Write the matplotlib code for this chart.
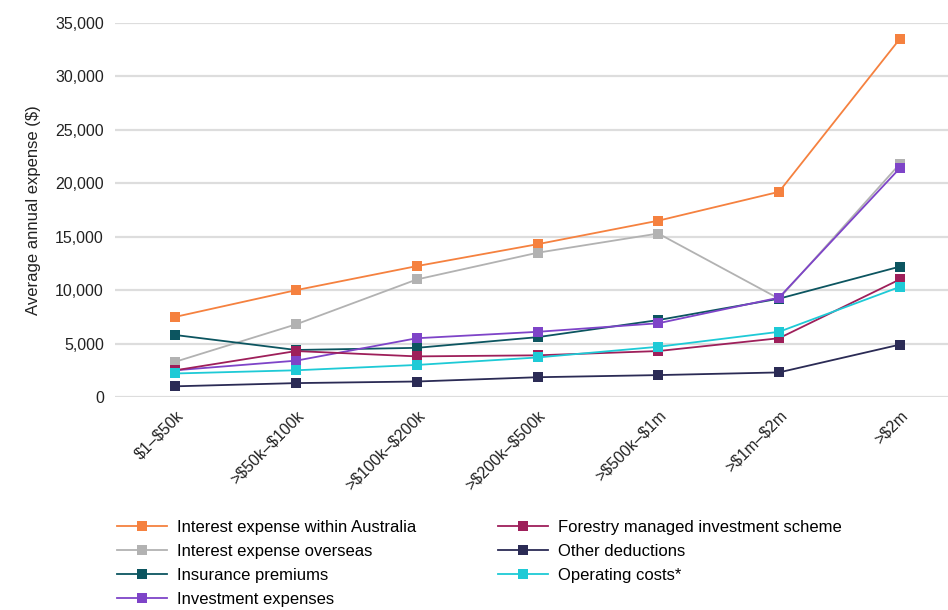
import matplotlib
matplotlib.use("Agg")
import matplotlib.pyplot as plt
from matplotlib.ticker import FuncFormatter

plt.rcParams['font.family'] = ['Liberation Sans', 'DejaVu Sans']
plt.rcParams['text.parse_math'] = False

categories = ["$1–$50k", ">$50k–$100k", ">$100k–$200k", ">$200k–$500k",
              ">$500k–$1m", ">$1m–$2m", ">$2m"]

interest_aus = [7500, 10000, 12250, 14300, 16500, 19200, 33500]
interest_overseas = [3300, 6800, 11000, 13500, 15300, 9200, 21800]
insurance = [5800, 4400, 4600, 5600, 7200, 9200, 12200]
investment = [2500, 3400, 5500, 6100, 6900, 9300, 21400]
forestry = [2500, 4300, 3800, 3900, 4300, 5500, 11000]
other = [1000, 1300, 1450, 1850, 2050, 2300, 4900]
operating = [2200, 2500, 3000, 3700, 4700, 6100, 10300]

series = [
    ("Interest expense within Australia", interest_aus, "#F5813F"),
    ("Interest expense overseas", interest_overseas, "#B2B2B2"),
    ("Insurance premiums", insurance, "#0C5560"),
    ("Investment expenses", investment, "#7E44C8"),
    ("Forestry managed investment scheme", forestry, "#9E1F5A"),
    ("Other deductions", other, "#2B2B55"),
    ("Operating costs*", operating, "#1ECAD6"),
]

fig = plt.figure(figsize=(9.48, 6.10), dpi=100)
ax = fig.add_axes([115/948, 1-397/610, 1-115/948, (397-23)/610])

x = list(range(len(categories)))
for name, vals, col in series:
    ax.plot(x, vals, color=col, lw=1.3, marker='s', markersize=6.5,
            markeredgewidth=0, label=name)

ax.set_ylim(0, 35000)
ax.set_xlim(-0.5, 6.4)
ax.set_yticks(range(0, 35001, 5000))
ax.yaxis.set_major_formatter(FuncFormatter(lambda v, p: f"{int(v):,}"))
ax.set_xticks(x)
ax.set_xticklabels(categories, rotation=45, ha='right', rotation_mode='anchor')
ax.tick_params(axis='both', length=0, labelsize=11.5, colors='#222222')
ax.tick_params(axis='x', pad=8)
ax.tick_params(axis='y', pad=8)
ax.grid(axis='y', color='#DDDDDD', lw=1.6)
ax.set_axisbelow(True)
for s in ax.spines.values():
    s.set_visible(False)
ax.set_ylabel("Average annual expense ($)", fontsize=12, color='#222222', labelpad=10)

fig.legend(loc='upper left', bbox_to_anchor=(110/948, 1-513/610), ncol=2,
           frameon=False, fontsize=12, handlelength=3, columnspacing=4.9,
           labelspacing=0.55, handletextpad=0.6, borderaxespad=0)

fig.savefig("out.png", dpi=100)
